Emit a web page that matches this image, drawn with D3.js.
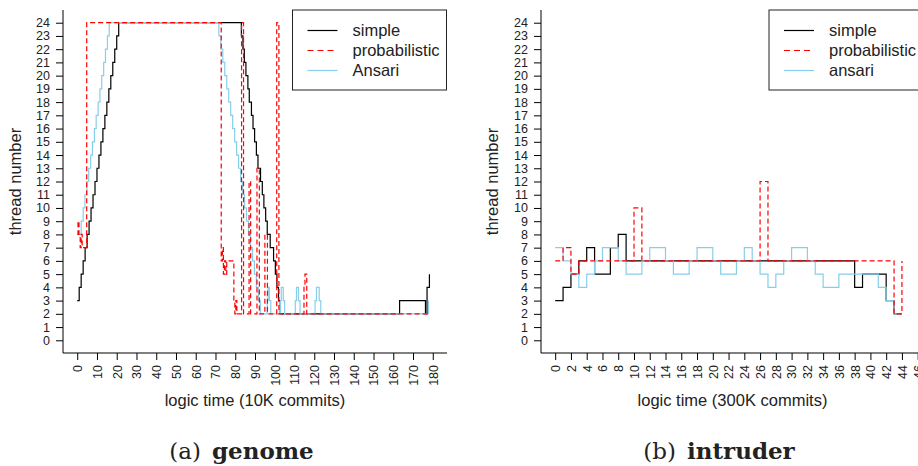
<!DOCTYPE html>
<html>
<head>
<meta charset="utf-8">
<script src="https://cdn.jsdelivr.net/npm/d3@7"></script>
<style>
  body { margin: 0; background: #fff; }
  svg { display: block; }
  text { font-family: "Liberation Sans", Arial, sans-serif; fill: #222; }
</style>
</head>
<body>
<div id="chart"></div>
<script>
// ---- data: step series, time of change -> thread count ----
// (a) genome, logic time in 10K commits
var genomeSimpleT = [0,1,2,3,4,5,6,7,8,9,10,11,12,13,14,15,16,17,18,19,20,21,
  83.1,83.9,84.6,85.4,86.4,87.1,88.2,89,89.8,90.7,91.5,92.8,93.7,94.5,95.4,96.2,97.7,99.4,100.3,101.1,101.9,102.8,
  163.2,176.3,177.1,178.3];
var genomeSimpleV = [3,4,5,6,7,8,9,10,11,12,13,14,15,16,17,18,19,20,21,22,23,24,
  23,22,21,20,19,18,17,16,15,14,13,12,11,10,9,8,7,6,5,4,3,2,
  3,2,4,5];

var genomeProbT = [0,0.4,0.9,1.5,2,2.5,4.8,72.9,73.5,74,74.5,75.2,75.7,79.3,79.8,80.3,80.8,
  83.2,84.2,87,87.8,91,92.2,95,96.3,101,102.1,114.8,115.3,116.2,178];
var genomeProbV = [8,9,8,7,8,7,24,6,7,5,6,5,6,3,2,3,2,
  24,2,12,2,13,2,8,2,24,2,4,5,2,2];

var genomeAnsariT = [1.2,2,3,3.9,4.9,5.8,6.8,7.7,8.7,9.6,10.6,11.5,12.4,13.4,14.3,15.3,16.2,
  71.7,72.7,73.7,74.7,75.7,76.7,77.7,78.7,79.7,80.7,81.7,82.7,83.7,84.7,85.7,86.7,87.7,88.7,89.7,90.7,91.7,92.7,
  96.2,96.6,97.3,98,102.9,103.3,104.3,105,110.4,111,112,112.8,120.4,121.1,122.5,123.3,177.8];
var genomeAnsariV = [8,9,10,11,12,13,14,15,16,17,18,19,20,21,22,23,24,
  23,22,21,20,19,18,17,16,15,14,13,12,11,10,9,8,7,6,5,4,3,2,
  3,4,3,2,3,4,3,2,3,4,3,2,3,4,3,2,3];

// (b) intruder, logic time in 300K commits
var intruderSimpleT = [0,1,2,3,4,5,7,8,9,38,39,42,43,44];
var intruderSimpleV = [3,4,5,6,7,5,7,8,6,4,5,3,2,2];

var intruderProbT = [0,1,2,3,10,11,26,27,43,44];
var intruderProbV = [6,7,5,6,10,6,12,6,2,6];

var intruderAnsariT = [0,1,2,3,4,5,6,8,9,11,12,14,15,17,18,20,21,23,24,25,26,27,28,29,30,32,33,34,36,41,42,43,44];
var intruderAnsariV = [7,6,5,4,5,6,7,6,5,6,7,6,5,6,7,6,5,6,7,6,5,4,5,6,7,6,5,4,5,4,3,2,2];

var yTicks = d3.range(0, 25);
var genomeXTicks = d3.range(0, 181, 10);
var intruderXTicks = d3.range(0, 47, 2);

var seriesNames = ["simple", "probabilistic"];
var colors = { simple: "#000000", probabilistic: "#ff0000", ansari: "#87ceeb" };

var svg = d3.select("#chart").append("svg")
  .attr("width", 918)
  .attr("height", 466);

function zip(t, v) {
  return t.map(function(d, i) { return [d, v[i]]; });
}

function drawPanel(opt) {
  var x = d3.scaleLinear().domain(opt.xdom).range([opt.left, opt.right]);
  var y = d3.scaleLinear().domain([-0.96, 24.96]).range([353, 10]);

  var g = svg.append("g");

  // L shaped frame
  g.append("path")
    .attr("d", "M" + opt.left + ",10V353H" + opt.right)
    .attr("fill", "none")
    .attr("stroke", "#000")
    .attr("stroke-width", 1);

  // y axis
  var ya = g.append("g")
    .attr("transform", "translate(" + opt.left + ",0)")
    .call(d3.axisLeft(y).tickValues(yTicks).tickSize(7).tickPadding(6));
  ya.select(".domain").remove();
  ya.selectAll("text").style("font-size", "12.5px").style("font-family", "Liberation Sans, Arial, sans-serif").attr("fill", "#222");

  // x axis
  var xa = g.append("g")
    .attr("transform", "translate(0,353)")
    .call(d3.axisBottom(x).tickValues(opt.xticks).tickSize(7));
  xa.select(".domain").remove();
  xa.selectAll("text")
    .attr("transform", "rotate(-90)")
    .attr("x", -12)
    .attr("y", 0)
    .attr("dy", "0.35em")
    .style("text-anchor", "end")
    .style("font-size", "12.5px")
    .style("font-family", "Liberation Sans, Arial, sans-serif")
    .attr("fill", "#222");

  // axis titles
  g.append("text")
    .attr("x", (opt.left + opt.right) / 2)
    .attr("y", 406)
    .attr("text-anchor", "middle")
    .style("font-size", "16.5px")
    .text(opt.xlabel);

  g.append("text")
    .attr("transform", "translate(" + opt.ylabX + ",181.5) rotate(-90)")
    .attr("text-anchor", "middle")
    .style("font-size", "16.5px")
    .text("thread number");

  var line = d3.line()
    .x(function(d) { return x(d[0]); })
    .y(function(d) { return y(d[1]); })
    .curve(d3.curveStepAfter);

  // simple, ansari, then probabilistic on top
  g.append("path").datum(opt.simple)
    .attr("fill", "none").attr("stroke", colors.simple).attr("stroke-width", 1.2)
    .attr("d", line);
  g.append("path").datum(opt.ansari)
    .attr("fill", "none").attr("stroke", colors.ansari).attr("stroke-width", 1.2)
    .attr("d", line);
  g.append("path").datum(opt.prob)
    .attr("fill", "none").attr("stroke", colors.probabilistic).attr("stroke-width", 1.2)
    .attr("stroke-dasharray", "5,3")
    .attr("d", line);

  // legend
  var lg = g.append("g");
  lg.append("rect")
    .attr("x", opt.legX).attr("y", 10)
    .attr("width", opt.legW).attr("height", 80)
    .attr("fill", "#fff").attr("stroke", "#222").attr("stroke-width", 1);
  var names = seriesNames.concat([opt.ansariName]);
  var cols = [colors.simple, colors.probabilistic, colors.ansari];
  names.forEach(function(n, i) {
    var cy = 30.5 + i * 20;
    lg.append("line")
      .attr("x1", opt.legX + 15).attr("x2", opt.legX + 45)
      .attr("y1", cy).attr("y2", cy)
      .attr("stroke", cols[i]).attr("stroke-width", 1.2)
      .attr("stroke-dasharray", i == 1 ? "6,4" : null);
    lg.append("text")
      .attr("x", opt.legX + 60).attr("y", cy)
      .attr("dy", "0.35em")
      .style("font-size", "16.5px")
      .text(n);
  });

  // caption
  var cap = g.append("text")
    .attr("x", opt.capX).attr("y", 459)
    .attr("text-anchor", "middle")
    .style("font-family", "DejaVu Serif, serif")
    .style("font-size", "23px")
    .attr("fill", "#000");
  cap.append("tspan").text(opt.capA);
  cap.append("tspan").attr("dx", 11).style("font-weight", "bold").text(opt.capB);
}

drawPanel({
  left: 63, right: 447, xdom: [-7.2, 187.2], xticks: genomeXTicks,
  xlabel: "logic time (10K commits)", ylabX: 21,
  simple: zip(genomeSimpleT, genomeSimpleV),
  prob: zip(genomeProbT, genomeProbV),
  ansari: zip(genomeAnsariT, genomeAnsariV),
  ansariName: "Ansari",
  legX: 292.5, legW: 154,
  capX: 241.5, capA: "(a)", capB: "genome"
});

drawPanel({
  left: 541, right: 924, xdom: [-1.8, 46.8], xticks: intruderXTicks,
  xlabel: "logic time (300K commits)", ylabX: 498,
  simple: zip(intruderSimpleT, intruderSimpleV),
  prob: zip(intruderProbT, intruderProbV),
  ansari: zip(intruderAnsariT, intruderAnsariV),
  ansariName: "ansari",
  legX: 769, legW: 154,
  capX: 719, capA: "(b)", capB: "intruder"
});
</script>
</body>
</html>
